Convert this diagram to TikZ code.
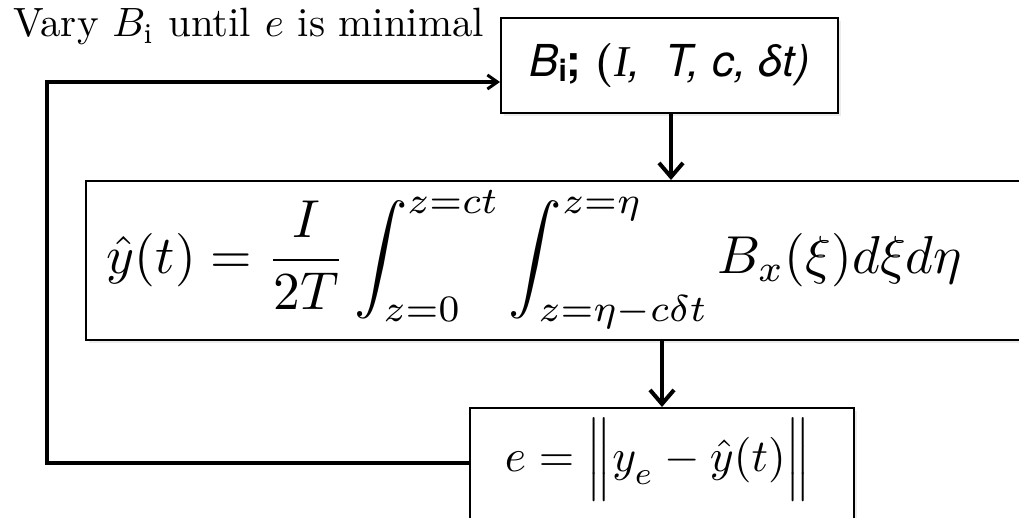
\documentclass[tikz,border=0pt]{standalone}
\usepackage{fontspec}
\usepackage{amsmath}
\usepackage{graphicx}
\newfontfamily\herosfont{TeX Gyre Heros}
\newfontfamily\libserif{Liberation Serif}
\usetikzlibrary{arrows.meta,shadows}
\begin{document}
\begin{tikzpicture}[x=1pt,y=-1pt,
  box/.style={draw=black,line width=2pt,fill=white,inner sep=0pt,
    drop shadow={opacity=0.15,shadow xshift=3pt,shadow yshift=-3pt,fill=black!50}},
  conn/.style={line width=4pt,-{Straight Barb[length=14pt,width=24pt,line width=4pt]}},
  loopline/.style={line width=4.5pt,line join=miter,-{Straight Barb[length=10pt,width=14pt,line width=3pt]}}]
\useasboundingbox (0,0) rectangle (1019,518);
\fill[white] (0,0) rectangle (1019,518);
% boxes
\node[box,minimum width=337pt,minimum height=95pt] (top) at (669.5,65.5)
  {\fontsize{44}{50}\selectfont{\herosfont\itshape B}\raisebox{-0.25ex}{\fontsize{30}{34}\selectfont\herosfont\bfseries i}{\herosfont\bfseries ;} {\bfseries (}{\libserif\itshape I}{\herosfont\itshape,\ \ T, c, δt)}};
\node[box,minimum width=944pt,minimum height=159pt] (mid) at (558,260.5) {};
\node (midf) at (534.5,260) {\resizebox{855pt}{!}{$\displaystyle \hat{y}(t)=\frac{I}{2T}\int_{z=0}^{z=ct}\int_{z=\eta-c\delta t}^{z=\eta}B_x(\xi)d\xi d\eta$}};
\node[box,minimum width=384pt,minimum height=122pt] (bot) at (662,469) {};
\node (botf) at (658,460) {\resizebox{306pt}{!}{$e=\Big\Vert y_{\raisebox{-0.3ex}{$\scriptstyle e$}}-\hat{y}(t)\Big\Vert$}};
% label
\node[anchor=base west,inner sep=0pt] (lab) at (13,37)
  {\resizebox{471pt}{!}{Vary $B_{\mathrm{i}}$ until $e$ is minimal}};
% connectors
\draw[conn] (top.south -| 671,0) -- (mid.north -| 671,0);
\draw[conn] (mid.south -| bot.north) -- (bot.north);
\coordinate (loopa) at ([yshift=6pt]bot.west);
\coordinate (loopc) at (47,82);
\draw[loopline] (loopa) -| (loopc) -- (top.west |- loopc);
\end{tikzpicture}
\end{document}
